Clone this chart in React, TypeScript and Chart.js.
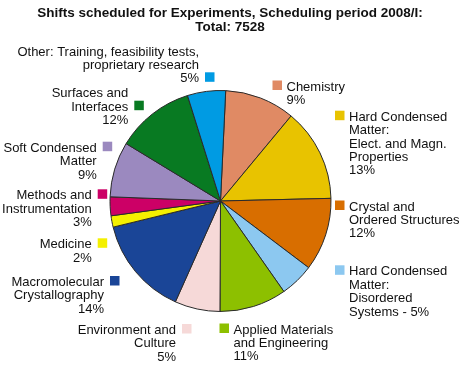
import { useEffect, useRef } from "react";
import { Chart, registerables } from "chart.js";

Chart.register(...registerables);

const TITLE_LINES = [
  "Shifts scheduled for Experiments, Scheduling period 2008/I:",
  "Total: 7528",
];

const categories = [
  "Chemistry",
  "Hard Condensed Matter: Elect. and Magn. Properties",
  "Crystal and Ordered Structures",
  "Hard Condensed Matter: Disordered Systems",
  "Applied Materials and Engineering",
  "Environment and Culture",
  "Macromolecular Crystallography",
  "Medicine",
  "Methods and Instrumentation",
  "Soft Condensed Matter",
  "Surfaces and Interfaces",
  "Other: Training, feasibility tests, proprietary research",
];

// shifts per field (total 7528)
const shifts = [774, 1023, 805, 374, 738, 498, 1092, 125, 207, 609, 864, 420];

const labelLines: string[][] = [
  ["Chemistry", "9%"],
  ["Hard Condensed", "Matter:", "Elect. and Magn.", "Properties", "13%"],
  ["Crystal and", "Ordered Structures", "12%"],
  ["Hard Condensed", "Matter:", "Disordered", "Systems - 5%"],
  ["Applied Materials", "and Engineering", "11%"],
  ["Environment and", "Culture", "5%"],
  ["Macromolecular", "Crystallography", "14%"],
  ["Medicine", "2%"],
  ["Methods and", "Instrumentation", "3%"],
  ["Soft Condensed", "Matter", "9%"],
  ["Surfaces and", "Interfaces", "12%"],
  ["Other: Training, feasibility tests,", "proprietary research", "5%"],
];

const colors = [
  "#E08A64",
  "#E8C300",
  "#D86E00",
  "#8CC8F0",
  "#8DC000",
  "#F6D9D8",
  "#1A4597",
  "#F4F000",
  "#CC0066",
  "#9B89BF",
  "#087A22",
  "#009BE3",
];

// label layout: anchor x, first baseline y, alignment, which line holds the colour square
const labelLayout = [
  { x: 286.5, y: 90.5, align: "left", sq: 0 },
  { x: 349, y: 120.7, align: "left", sq: 0 },
  { x: 349, y: 210.5, align: "left", sq: 0 },
  { x: 349, y: 275.3, align: "left", sq: 0 },
  { x: 233.5, y: 333.5, align: "left", sq: 0 },
  { x: 176, y: 334, align: "right", sq: 0 },
  { x: 104, y: 286, align: "right", sq: 0 },
  { x: 91.7, y: 248.3, align: "right", sq: 0 },
  { x: 91.7, y: 199.3, align: "right", sq: 0 },
  { x: 96.7, y: 151.7, align: "right", sq: 0 },
  { x: 128.3, y: 97.3, align: "right", sq: 1 },
  { x: 199, y: 55.5, align: "right", sq: 2 },
];

const FONT_FAMILY = '"Liberation Sans", Arial, sans-serif';
const LINE_H = 13.4;
const SQ = 9.5;

const labelPlugin = {
  id: "sliceLabels",
  afterDraw(chart: any) {
    const ctx = chart.ctx as CanvasRenderingContext2D;
    const meta = chart.getDatasetMeta(0);
    ctx.save();
    ctx.fillStyle = "#111";
    ctx.textAlign = "center";
    ctx.textBaseline = "alphabetic";
    ctx.font = `bold 13.5px ${FONT_FAMILY}`;
    ctx.fillText(TITLE_LINES[0], 230, 16.5);
    ctx.fillText(TITLE_LINES[1], 230, 30.5);

    ctx.font = `13px ${FONT_FAMILY}`;
    meta.data.forEach((arc: any, i: number) => {
      const lay = labelLayout[i];
      const lines = labelLines[i];
      const color = arc.options.backgroundColor;
      ctx.textAlign = lay.align as CanvasTextAlign;
      ctx.fillStyle = "#111";
      lines.forEach((ln, j) => {
        ctx.fillText(ln, lay.x, lay.y + j * LINE_H);
      });
      const sqBase = lay.y + lay.sq * LINE_H;
      const sx = lay.align === "left" ? lay.x - 4.5 - SQ : lay.x + 6;
      ctx.fillStyle = color;
      ctx.fillRect(sx, sqBase - SQ - 0.5, SQ, SQ);
    });
    ctx.restore();
  },
};

export default function App() {
  const ref = useRef<HTMLCanvasElement | null>(null);
  useEffect(() => {
    document.body.style.margin = "0";
    const canvas = ref.current!;
    const chart = new Chart(canvas, {
      type: "pie",
      data: {
        labels: categories,
        datasets: [
          {
            data: shifts,
            backgroundColor: colors,
            borderColor: "#2a2a2a",
            borderWidth: 1,
          },
        ],
      },
      options: {
        responsive: false,
        animation: false,
        rotation: 2.7,
        layout: { padding: { left: 109.5, right: 135.5, top: 90, bottom: 55 } },
        plugins: {
          legend: { display: false },
          title: { display: false },
          tooltip: { enabled: false },
        },
      },
      plugins: [labelPlugin],
    });
    return () => chart.destroy();
  }, []);
  return (
    <div style={{ width: 467, height: 367, background: "#fff" }}>
      <canvas ref={ref} width={467} height={367} style={{ display: "block" }} />
    </div>
  );
}
